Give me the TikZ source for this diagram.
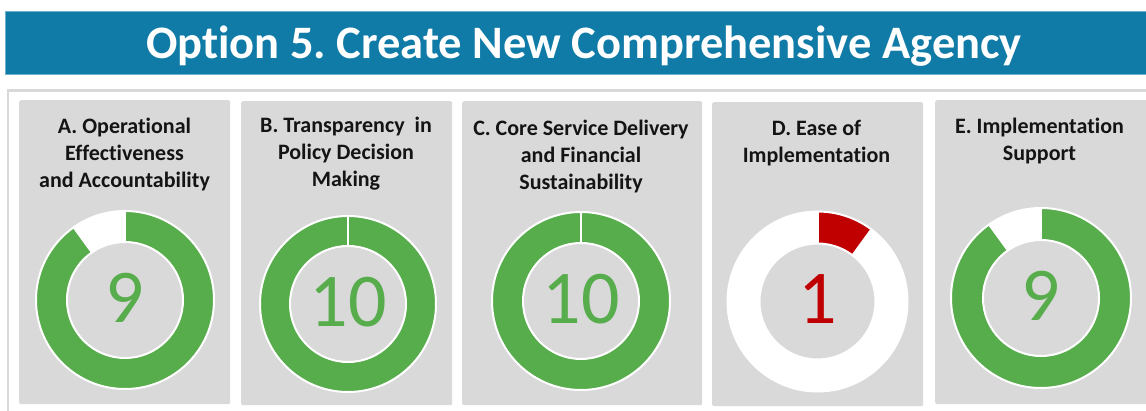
\documentclass[tikz,border=0pt]{standalone}
\usepackage{fontspec}
\setmainfont[Ligatures=NoCommon]{Carlito}
\definecolor{bannerblue}{RGB}{17,123,167}
\definecolor{framegray}{RGB}{217,217,217}
\definecolor{panelgray}{RGB}{217,217,217}
\definecolor{ringgreen}{RGB}{87,172,76}
\definecolor{ringred}{RGB}{192,0,0}
\definecolor{titletext}{RGB}{20,20,20}
\newcommand\rin{58}
\newcommand\mydonut[5]{%
  \begin{scope}[shift={(#1,#2)}]
    \fill[white] (0,0) circle[radius=#3];
    \fill[#5] (90:#3) arc[start angle=90, end angle={90-36*#4}, radius=#3]
      -- ({90-36*#4}:\rin) arc[start angle={90-36*#4}, end angle=90, radius=\rin] -- cycle;
    \draw[ringline] (0,0) circle[radius=#3];
    \fill[panelgray] (0,0) circle[radius=\rin];
    \draw[ringline] (0,0) circle[radius=\rin];
    \draw[ringline] (90:\rin) -- (90:#3);
  \end{scope}}
\tikzset{
  ringline/.style={white, line width=2pt},
  panel/.style={fill=panelgray, draw=none, rounded corners=2pt, inner sep=0pt, anchor=north west},
  ptitle/.style={anchor=north, align=center, inner sep=0pt, text=titletext,
    font=\fontsize{22}{27}\selectfont\bfseries},
  score/.style={anchor=base, inner sep=0pt, font=\fontsize{76}{80}\selectfont},
}
\frenchspacing
\begin{document}
\begin{tikzpicture}[x=1pt,y=1pt]
\useasboundingbox (0,0) rectangle (1146,410);
\clip (0,0) rectangle (1146,410);
\fill[white] (0,0) rectangle (1146,410);
% banner
\node[fill=bannerblue, draw=bannerblue!60!white, line width=0.6pt, minimum width=1150pt, minimum height=63pt, anchor=north west, inner sep=0pt] (banner) at (5,399) {};
\node[anchor=base, text=white, inner sep=0pt, font=\fontsize{46.5}{50}\selectfont\bfseries] (btitle) at (584,351) {Option 5. Create New Comprehensive Agency};
% frame
\node[draw=framegray, line width=2.5pt, minimum width=1160pt, minimum height=340pt, anchor=north west, inner sep=0pt] (frame) at (6.5,320.5) {};
% panels
\node[panel, minimum width=211pt, minimum height=304pt] (pA) at (19,310) {};
\node[panel, minimum width=211pt, minimum height=304pt] (pB) at (241,309) {};
\node[panel, minimum width=240pt, minimum height=304pt] (pC) at (462,309) {};
\node[panel, minimum width=211pt, minimum height=304pt] (pD) at (712,308) {};
\node[panel, minimum width=240pt, minimum height=304pt] (pE) at (935,310) {};
% titles
\node[ptitle] (tA) at (124.5,292) {A. Operational\\Effectiveness\\and Accountability};
\node[ptitle] (tB) at (346,293) {B. Transparency\ \ in\\Policy Decision\\Making};
\node[ptitle] (tC) at (581,290) {C. Core Service Delivery\\and Financial\\Sustainability};
\node[ptitle] (tD) at (816.5,290) {D. Ease of\\Implementation};
\node[ptitle] (tE) at (1039.5,292) {E. Implementation\\Support};
% donuts
\mydonut{125}{110}{89}{9}{ringgreen}
\mydonut{348}{106}{88}{10}{ringgreen}
\mydonut{581}{109}{89}{10}{ringgreen}
\mydonut{817.5}{108.5}{90}{1}{ringred}
\mydonut{1041}{112}{90}{9}{ringgreen}
% scores
\node[score, text=ringgreen] (sA) at (125,88) {9};
\node[score, text=ringgreen] (sB) at (348,84) {10};
\node[score, text=ringgreen] (sC) at (581,87) {10};
\node[score, text=ringred] (sD) at (817.5,86.5) {1};
\node[score, text=ringgreen] (sE) at (1041,90) {9};
\end{tikzpicture}
\end{document}
